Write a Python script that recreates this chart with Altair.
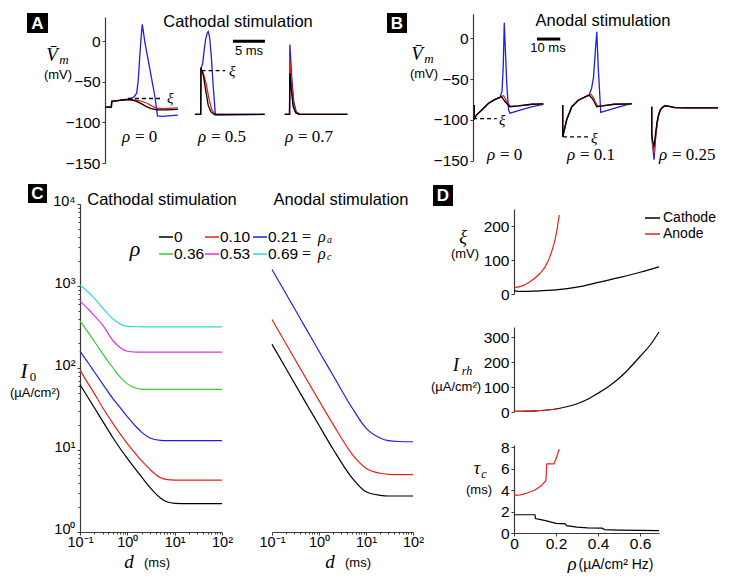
import altair as alt
import pandas as pd

W, H = 714, 565
SANS = "Liberation Sans"
SERIF = "Liberation Serif"
BLACK, RED, BLUE = "#000000", "#e3231c", "#1f1fdf"
GREEN, MAGENTA, CYAN = "#33cc33", "#e033e0", "#33d6e0"
AXC = "#3a3a3a"

# ---------------- Panel A : cathodal stimulation traces (ms, mV) ----------------
A_RHO = ["0", "0.5", "0.7"]
A_OFFSETS = [0.0, 14.06, 28.1]

a0_t_black = [0, 1.0, 1.05, 2.0, 3.0, 3.6, 4.5, 5.2, 5.8, 6.5, 7.2, 8.2, 9.5, 11.4]
a0_v_black = [-81, -81, -74, -73, -72, -71.8, -72.8, -75, -77.5, -80.5, -83, -84.5, -84.5, -84]
a0_t_red = [0, 1.0, 1.05, 2.0, 3.0, 3.6, 4.5, 5.5, 6.5, 7.3, 8.1, 9.0, 11.4]
a0_v_red = [-81, -81, -74, -73, -72, -71.6, -72.3, -73.5, -76, -79.5, -82.5, -83, -82]
a0_t_blue = [0, 1.0, 1.05, 2.0, 3.0, 3.6, 4.2, 4.6, 4.95, 5.2, 5.4, 5.6, 5.83, 6.25, 7.03, 7.8, 8.2, 9.0, 11.4]
a0_v_blue = [-81, -81, -74, -73, -72, -71.3, -70, -68, -64, -48, -23, 0, 21, -2, -35, -68, -92, -92.5, -91]

a1_t_black = [0, 0.9, 0.94, 1.3, 1.67, 2.08, 2.5, 3.0, 10.9]
a1_v_black = [-90, -90, -33, -41.6, -60, -79, -87, -90, -90]
a1_t_red = [0, 0.9, 0.94, 1.3, 1.75, 2.2, 2.65, 3.2, 10.9]
a1_v_red = [-90, -90, -34, -39, -52, -71, -85, -90, -90]
a1_t_blue = [0, 0.9, 0.94, 1.2, 1.46, 1.67, 1.9, 2.08, 2.3, 2.6, 2.86, 3.2, 4.0, 10.9]
a1_v_blue = [-90, -90, -33, -28, -10, 2, 10, 12, 5, -23, -56, -91, -91, -90]

a2_t_black = [0, 0.75, 0.8, 1.0, 1.3, 1.7, 2.2, 9.8]
a2_v_black = [-90, -90, -39, -58, -80, -88, -90, -90]
a2_t_red = [0, 0.75, 0.8, 1.05, 1.35, 1.75, 2.3, 9.8]
a2_v_red = [-90, -90, -22, -50, -77, -88, -90, -90]
a2_t_blue = [0, 0.75, 0.8, 1.1, 1.4, 1.8, 2.4, 9.8]
a2_v_blue = [-90, -90, -4, -45, -74, -87, -90, -90]

A_XI_V = [-70.5, -36.0]
A_XI_T0 = [3.6, 15.1]
A_XI_T1 = [9.06, 18.76]

# ---------------- Panel B : anodal stimulation traces (ms, mV) ----------------
B_RHO = ["0", "0.1", "0.25"]
B_OFFSETS = [0.55, 38.45, 76.6]

b0_t_black = [0, 0, 1.0, 3.2, 6.0, 8.9, 11.0, 11.8, 13.2, 15.3, 18.9, 24.6, 29.6]
b0_v_black = [-82, -98.5, -94, -88, -80, -75, -72.5, -72, -78, -84, -83, -81, -80.5]
b0_t_red = [0, 0, 1.0, 3.2, 6.0, 8.9, 11.0, 11.8, 12.6, 13.6, 15.3, 18.9, 24.6, 29.6]
b0_v_red = [-82, -98.5, -94, -88, -80, -75, -72.5, -71, -70.5, -76, -83.5, -83, -81, -80.5]
b0_t_blue = [0, 0, 1.0, 3.2, 6.0, 8.9, 11.0, 11.9, 12.4, 12.86, 13.4, 14.0, 14.7, 15.3, 20.0, 25.0, 29.6]
b0_v_blue = [-82, -98.5, -94, -88, -80, -75, -72.5, -65, -35, 19, -20, -60, -88, -92, -88, -84, -81]

b1_t_black = [0, 0, 0.7, 1.7, 3.9, 6.7, 10.3, 11.4, 12.7, 14.6, 17.0, 22.0, 29.6]
b1_v_black = [-82, -121, -112, -100, -84, -76, -71, -70, -74, -84, -83, -81, -80.5]
b1_t_red = [0, 0, 0.7, 1.7, 3.9, 6.7, 10.3, 11.4, 12.2, 13.2, 14.8, 17.0, 22.0, 29.6]
b1_v_red = [-82, -121, -112, -100, -84, -76, -71, -69.5, -69, -73, -83, -83, -81, -80.5]
b1_t_blue = [0, 0, 0.7, 1.7, 3.9, 6.7, 10.3, 11.4, 12.4, 13.2, 14.0, 14.6, 15.3, 16.3, 22.0, 29.6]
b1_v_blue = [-82, -121, -112, -100, -84, -76, -71, -69, -61, -48, -15, 8, -40, -91, -86, -80]

b2_t = [0, 0, 0.4, 1.0, 1.6, 2.3, 3.0, 3.6, 4.5, 5.7, 7.5, 10, 15, 28.4]
b2_v_black = [-84, -118, -126, -133, -118, -102, -93, -88, -85, -83, -83.5, -85, -85.5, -85.5]
b2_v_red = [-84, -118, -129, -141, -121, -104, -94, -88.5, -85, -83, -83.5, -85, -85.5, -85.5]
b2_v_blue = [-84, -118, -132, -149, -124, -105, -95, -89, -85, -82.5, -83.5, -85, -85.5, -85.5]

B_XI_V = [-98.5, -121.0]
B_XI_T0 = [0.0, 38.6]
B_XI_T1 = [10.2, 49.7]

# ---------------- Panel C : strength-duration curves ----------------
C_RHO_LABELS = ["0", "0.10", "0.21", "0.36", "0.53", "0.69"]
c_d_cath = [0.1, 0.15, 0.2, 0.3, 0.5, 0.7, 1, 1.5, 2, 3, 5, 7, 10, 20, 50, 100]
c_cath_0 = [63, 43, 33, 22.5, 14, 10.5, 7.9, 5.8, 4.7, 3.5, 2.6, 2.32, 2.24, 2.22, 2.22, 2.22]
c_cath_010 = [95, 64, 49, 33, 21, 15.8, 12, 9, 7.4, 5.8, 4.6, 4.35, 4.3, 4.3, 4.3, 4.3]
c_cath_021 = [160, 115, 90, 64, 42, 33, 25.5, 19.5, 16.5, 14, 13.1, 13, 13, 13, 13, 13]
c_cath_036 = [375, 270, 212, 150, 100, 78, 64, 57, 55.4, 55, 55, 55, 55, 55, 55, 55]
c_cath_053 = [655, 520, 435, 335, 215, 178, 160, 156.5, 156, 156, 156, 156, 156, 156, 156, 156]
c_cath_069 = [1030, 840, 710, 540, 395, 345, 322, 318.5, 318, 318, 318, 318, 318, 318, 318, 318]

c_d_anod = [0.1, 0.2, 0.5, 1, 2, 5, 10, 20, 30, 50, 100]
c_anod_0 = [195, 98, 39.5, 20, 10.2, 4.6, 3.1, 2.8, 2.75, 2.75, 2.75]
c_anod_010 = [390, 196, 79, 40, 20.5, 9.0, 6.0, 5.2, 5.05, 5.0, 5.0]
c_anod_021 = [1590, 800, 320, 160, 81, 33, 18.5, 14, 13, 12.7, 12.6]

# ---------------- Panel D : threshold quantities vs rho ----------------
d_xi_cath_rho = [0, 0.02, 0.05, 0.1, 0.2, 0.3, 0.4, 0.5, 0.6, 0.69]
d_xi_cath = [10, 8, 7.5, 8.5, 12, 20, 34, 48, 64, 80]
d_xi_anod_rho = [0, 0.04, 0.076, 0.124, 0.15, 0.171, 0.195, 0.205, 0.211, 0.216]
d_xi_anod = [19, 24, 36, 61, 82, 110, 159, 190, 215, 232]

d_irh_cath_rho = [0, 0.1, 0.2, 0.25, 0.3, 0.36, 0.4, 0.45, 0.5, 0.53, 0.55, 0.6, 0.65, 0.69]
d_irh_cath = [2.2, 4.3, 12, 21, 33, 55, 75, 102, 135, 158, 176, 222, 270, 320]
d_irh_anod_rho = [0, 0.05, 0.1, 0.15, 0.21]
d_irh_anod = [2.2, 3.0, 4.3, 7.0, 13]

d_tau_cath_rho = [0, 0.1, 0.102, 0.15, 0.2, 0.245, 0.25, 0.3, 0.35, 0.42, 0.43, 0.5, 0.6, 0.69]
d_tau_cath = [1.7, 1.7, 1.35, 1.15, 0.9, 0.85, 0.68, 0.55, 0.47, 0.45, 0.32, 0.27, 0.24, 0.22]
d_tau_anod_rho = [0, 0.03, 0.06, 0.1, 0.13, 0.152, 0.156, 0.19, 0.2, 0.215]
d_tau_anod = [3.5, 3.55, 3.7, 4.0, 4.4, 4.9, 6.45, 6.45, 6.9, 7.8]

# ================= helpers =================
ONE = pd.DataFrame({"k": [0]})


def frame(xs, ys, off=0.0):
    return pd.DataFrame({"t": [x + off for x in xs], "v": ys, "i": list(range(len(xs)))})


def curve(df, color, xs, ys, yaxis=None, xaxis=None, width=1.3, interp="linear"):
    return alt.Chart(df).mark_line(color=color, strokeWidth=width, interpolate=interp).encode(
        x=alt.X("t:Q", scale=xs, axis=xaxis),
        y=alt.Y("v:Q", scale=ys, axis=yaxis),
        order="i:Q",
    )


def yaxis(offset, values, **kw):
    opts = dict(orient="left", offset=offset, values=values, title=None, tickSize=3, labelPadding=2)
    opts.update(kw)
    return alt.Axis(**opts)


def xaxis(offset, values, **kw):
    opts = dict(orient="bottom", offset=offset, values=values, title=None, tickSize=3, labelPadding=1)
    opts.update(kw)
    return alt.Axis(**opts)


def hrule(t0, t1, v, xs, ys, dash=False, width=1.3):
    df = pd.DataFrame({"t0": t0, "t1": t1, "v": v})
    kw = {"strokeDash": [4, 3]} if dash else {}
    return alt.Chart(df).mark_rule(color="black", strokeWidth=width, **kw).encode(
        x=alt.X("t0:Q", scale=xs, axis=None), x2="t1:Q",
        y=alt.Y("v:Q", scale=ys, axis=None))


def txt(s, x, y, size=15, font=SANS, italic=False, bold=False, color="black", align="center"):
    return alt.Chart(ONE).mark_text(
        text=s, font=font, fontSize=size, fontStyle="italic" if italic else "normal",
        fontWeight="bold" if bold else "normal", color=color, align=align, baseline="middle"
    ).encode(x=alt.value(x), y=alt.value(y))


def box(x0, y0, x1, y1):
    return alt.Chart(ONE).mark_rect(color="black").encode(
        x=alt.value(x0), x2=alt.value(x1), y=alt.value(y0), y2=alt.value(y1))


def seg(x0, x1, y, color, width=1.5):
    return alt.Chart(ONE).mark_rule(color=color, strokeWidth=width).encode(
        x=alt.value(x0), x2=alt.value(x1), y=alt.value(y))


def rho_label(x, y, val, size=17):
    return [txt("ρ", x, y, size, SERIF, italic=True, align="left"),
            txt("= " + val, x + 13, y, size, SERIF, align="left")]


def minor_axis_layer(scale, channel, offset):
    vals = [m * 10 ** e for e in range(-1, 4) for m in range(2, 10)]
    df = pd.DataFrame({"v": [1.0]})
    if channel == "y":
        enc = {"y": alt.Y("v:Q", scale=scale, axis=alt.Axis(
            orient="left", offset=offset, values=[v for v in vals if 1 < v < 10000],
            labels=False, domain=False, tickSize=2, title=None))}
    else:
        enc = {"x": alt.X("v:Q", scale=scale, axis=alt.Axis(
            orient="bottom", offset=offset, values=[v for v in vals if 0.1 < v < 100],
            labels=False, domain=False, tickSize=2, title=None))}
    return alt.Chart(df).mark_point(opacity=0).encode(**enc)


POW_EXPR = ("datum.value < 0.5 ? '10⁻¹' : datum.value < 5 ? '10⁰' : datum.value < 50 ? '10¹' : "
            "datum.value < 500 ? '10²' : datum.value < 5000 ? '10³' : '10⁴'")
RHO_EXPR = "datum.value == 0 ? '0' : format(datum.value, '.1f')"

layers = []

# ================= Panel A =================
A_X = alt.Scale(domain=[0, 38.3], range=[97, 342], nice=False, zero=False)
A_Y = alt.Scale(domain=[-150, 30], range=[155, 9], nice=False, zero=False)
A_TRACES = [
    [(BLUE, a0_t_blue, a0_v_blue), (RED, a0_t_red, a0_v_red), (BLACK, a0_t_black, a0_v_black)],
    [(BLUE, a1_t_blue, a1_v_blue), (RED, a1_t_red, a1_v_red), (BLACK, a1_t_black, a1_v_black)],
    [(BLUE, a2_t_blue, a2_v_blue), (RED, a2_t_red, a2_v_red), (BLACK, a2_t_black, a2_v_black)],
]
pa = []
for off, traces in zip(A_OFFSETS, A_TRACES):
    for color, t, v in traces:
        pa.append(curve(frame(t, v, off), color, A_X, A_Y,
                        yaxis=yaxis(-97, [-150, -100, -50, 0]) if not pa else None))
pa.append(hrule(A_XI_T0, A_XI_T1, A_XI_V, A_X, A_Y, dash=True))
pa.append(hrule([20.0], [25.0], [0.0], A_X, A_Y, width=3))
layers += pa

# ================= Panel B =================
B_X = alt.Scale(domain=[0, 105], range=[465, 710], nice=False, zero=False)
B_Y = alt.Scale(domain=[-150, 30], range=[152.5, 5.8], nice=False, zero=False)
B_TRACES = [
    [(BLUE, b0_t_blue, b0_v_blue), (RED, b0_t_red, b0_v_red), (BLACK, b0_t_black, b0_v_black)],
    [(BLUE, b1_t_blue, b1_v_blue), (RED, b1_t_red, b1_v_red), (BLACK, b1_t_black, b1_v_black)],
    [(BLUE, b2_t, b2_v_blue), (RED, b2_t, b2_v_red), (BLACK, b2_t, b2_v_black)],
]
pb = []
for off, traces in zip(B_OFFSETS, B_TRACES):
    for color, t, v in traces:
        pb.append(curve(frame(t, v, off), color, B_X, B_Y,
                        yaxis=yaxis(-465, [-150, -100, -50, 0]) if not pb else None))
pb.append(hrule(B_XI_T0, B_XI_T1, B_XI_V, B_X, B_Y, dash=True))
pb.append(hrule([27.4], [37.4], [-1.0], B_X, B_Y, width=3))
layers += pb

# ================= Panel C =================
C_Y = alt.Scale(type="log", domain=[1, 10000], range=[524, 196], nice=False)
CL_X = alt.Scale(type="log", domain=[0.1, 100], range=[72, 214], nice=False)
CR_X = alt.Scale(type="log", domain=[0.1, 100], range=[264, 405], nice=False)
cath_series = [(BLACK, c_cath_0), (RED, c_cath_010), (BLUE, c_cath_021),
               (GREEN, c_cath_036), (MAGENTA, c_cath_053), (CYAN, c_cath_069)]
pcl = []
for color, vals in cath_series:
    first = not pcl
    pcl.append(curve(frame(c_d_cath, vals), color, CL_X, C_Y, width=1.2, interp="monotone",
                     yaxis=yaxis(-72, [1, 10, 100, 1000, 10000], labelExpr=POW_EXPR,
                                 labelFontSize=14.5, labelOffset=-3) if first else None,
                     xaxis=xaxis(524 - H, [0.1, 1, 10, 100], labelExpr=POW_EXPR,
                                 labelFontSize=14.5, labelPadding=0) if first else None))
layers += pcl
layers.append(minor_axis_layer(C_Y, "y", -72))
layers.append(minor_axis_layer(CL_X, "x", 524 - H))

anod_series = [(BLACK, c_anod_0), (RED, c_anod_010), (BLUE, c_anod_021)]
pcr = []
for color, vals in anod_series:
    first = not pcr
    pcr.append(curve(frame(c_d_anod, vals), color, CR_X, C_Y, width=1.2, interp="monotone",
                     xaxis=xaxis(524 - H, [0.1, 1, 10, 100], labelExpr=POW_EXPR,
                                 labelFontSize=14.5, labelPadding=0) if first else None))
layers += pcr
layers.append(minor_axis_layer(CR_X, "x", 524 - H))

# ================= Panel D =================
D_X = alt.Scale(domain=[0, 0.69], range=[506, 651], nice=False, zero=False)
DT_Y = alt.Scale(domain=[0, 250], range=[286, 201], nice=False, zero=False)
DM_Y = alt.Scale(domain=[0, 340], range=[404, 319], nice=False, zero=False)
DB_Y = alt.Scale(domain=[0, 8.2], range=[525, 437], nice=False, zero=False)

layers += [
    curve(frame(d_xi_cath_rho, d_xi_cath), BLACK, D_X, DT_Y, width=1.2, interp="monotone",
          yaxis=yaxis(-506, [0, 100, 200])),
    curve(frame(d_xi_anod_rho, d_xi_anod), RED, D_X, DT_Y, width=1.2, interp="monotone"),
    curve(frame(d_irh_cath_rho, d_irh_cath), BLACK, D_X, DM_Y, width=1.2, interp="monotone",
          yaxis=yaxis(-506, [0, 100, 200, 300])),
    curve(frame(d_irh_anod_rho, d_irh_anod), RED, D_X, DM_Y, width=1.2, interp="monotone"),
    curve(frame(d_tau_cath_rho, d_tau_cath), BLACK, D_X, DB_Y, width=1.2,
          yaxis=yaxis(-506, [0, 2, 4, 6, 8]),
          xaxis=xaxis(525 - H, [0, 0.2, 0.4, 0.6], labelPadding=0, labelExpr=RHO_EXPR)),
    curve(frame(d_tau_anod_rho, d_tau_anod), RED, D_X, DB_Y, width=1.2),
]

# ================= annotations =================
ann = []
for (x0, y0, x1, y1, s) in [(19, 5, 40, 25, "A"), (379, 5, 399, 25, "B"),
                            (20, 176, 39, 195, "C"), (425, 177, 445, 198, "D")]:
    ann.append(box(x0, y0, x1, y1))
    ann.append(txt(s, (x0 + x1) / 2, (y0 + y1) / 2 + 0.5, 17, bold=True, color="white"))

ann += [
    txt("Cathodal stimulation", 230, 14, 16.5),
    txt("Anodal stimulation", 595, 13, 16.5),
    txt("5 ms", 241, 43, 13),
    txt("10 ms", 540, 40, 13),
    txt("Cathodal stimulation", 154, 192, 16.5),
    txt("Anodal stimulation", 333, 192, 16.5),
    txt("V\u0304", 44, 47, 19, SERIF, italic=True),
    txt("m", 56, 52, 13, SERIF, italic=True),
    txt("(mV)", 50, 67, 13),
    txt("V\u0304", 409, 46, 19, SERIF, italic=True),
    txt("m", 421, 51, 13, SERIF, italic=True),
    txt("(mV)", 416, 66, 13),
    txt("ξ", 159, 90, 15, SERIF, italic=True, align="left"),
    txt("ξ", 221, 63, 15, SERIF, italic=True, align="left"),
    txt("ξ", 491, 112, 15, SERIF, italic=True, align="left"),
    txt("ξ", 583, 130, 15, SERIF, italic=True, align="left"),
    txt("I", 16, 364, 21, SERIF, italic=True),
    txt("0", 25, 369, 13, SERIF),
    txt("(µA/cm²)", 27, 385, 13),
    txt("d", 121, 554, 19, SERIF, italic=True),
    txt("(ms)", 149, 555, 13),
    txt("d", 322, 554, 19, SERIF, italic=True),
    txt("(ms)", 350, 555, 13),
    txt("ρ", 127, 241, 22, SERIF, italic=True),
    txt("ξ", 455, 230, 18, SERIF, italic=True),
    txt("(mV)", 457, 246, 13),
    txt("I", 448, 358, 18, SERIF, italic=True),
    txt("rh", 459, 363, 12, SERIF, italic=True),
    txt("(µA/cm²)", 448, 379, 13),
    txt("τ", 469, 461, 18, SERIF, italic=True),
    txt("c", 476, 466, 12, SERIF, italic=True),
    txt("(ms)", 471, 482, 13),
    txt("ρ", 564, 556, 19, SERIF, italic=True),
    txt("(µA/cm² Hz)", 608, 557, 14),
    seg(637, 652, 210, BLACK), txt("Cathode", 655, 210, 14, align="left"),
    seg(637, 652, 226, RED), txt("Anode", 655, 226, 14, align="left"),
]
for x, lab in zip([114, 190, 277], A_RHO):
    ann += rho_label(x, 129, lab)
for x, lab in zip([479, 559, 651], B_RHO):
    ann += rho_label(x, 147, lab)

leg_colors = [BLACK, RED, BLUE, GREEN, MAGENTA, CYAN]
leg_x = [151, 197, 245]
for k, (col, lab) in enumerate(zip(leg_colors, C_RHO_LABELS)):
    y = 229 if k < 3 else 246
    x0 = leg_x[k % 3]
    ann.append(seg(x0, x0 + 14, y, col))
    ann.append(txt(lab, x0 + 15, y, 15.5, align="left"))
for y, sub in [(229, "a"), (246, "c")]:
    ann.append(txt("=", 294, y, 16, SERIF, align="left"))
    ann.append(txt("ρ", 310, y, 16, SERIF, italic=True, align="left"))
    ann.append(txt(sub, 319, y + 3, 10, SERIF, italic=True, align="left"))

layers += ann

chart = (
    alt.layer(*layers)
    .resolve_scale(x="independent", y="independent")
    .properties(width=W, height=H, autosize=alt.AutoSizeParams(type="none"), padding=0)
    .configure_view(stroke=None)
    .configure_axis(labelFont=SANS, labelFontSize=15.5, labelColor="black", domainColor=AXC,
                    tickColor=AXC, grid=False, labelFlush=False, labelOverlap=False,
                    domainWidth=1.2)
)
chart.save("out.html", embed_options={"renderer": "svg", "actions": False})
